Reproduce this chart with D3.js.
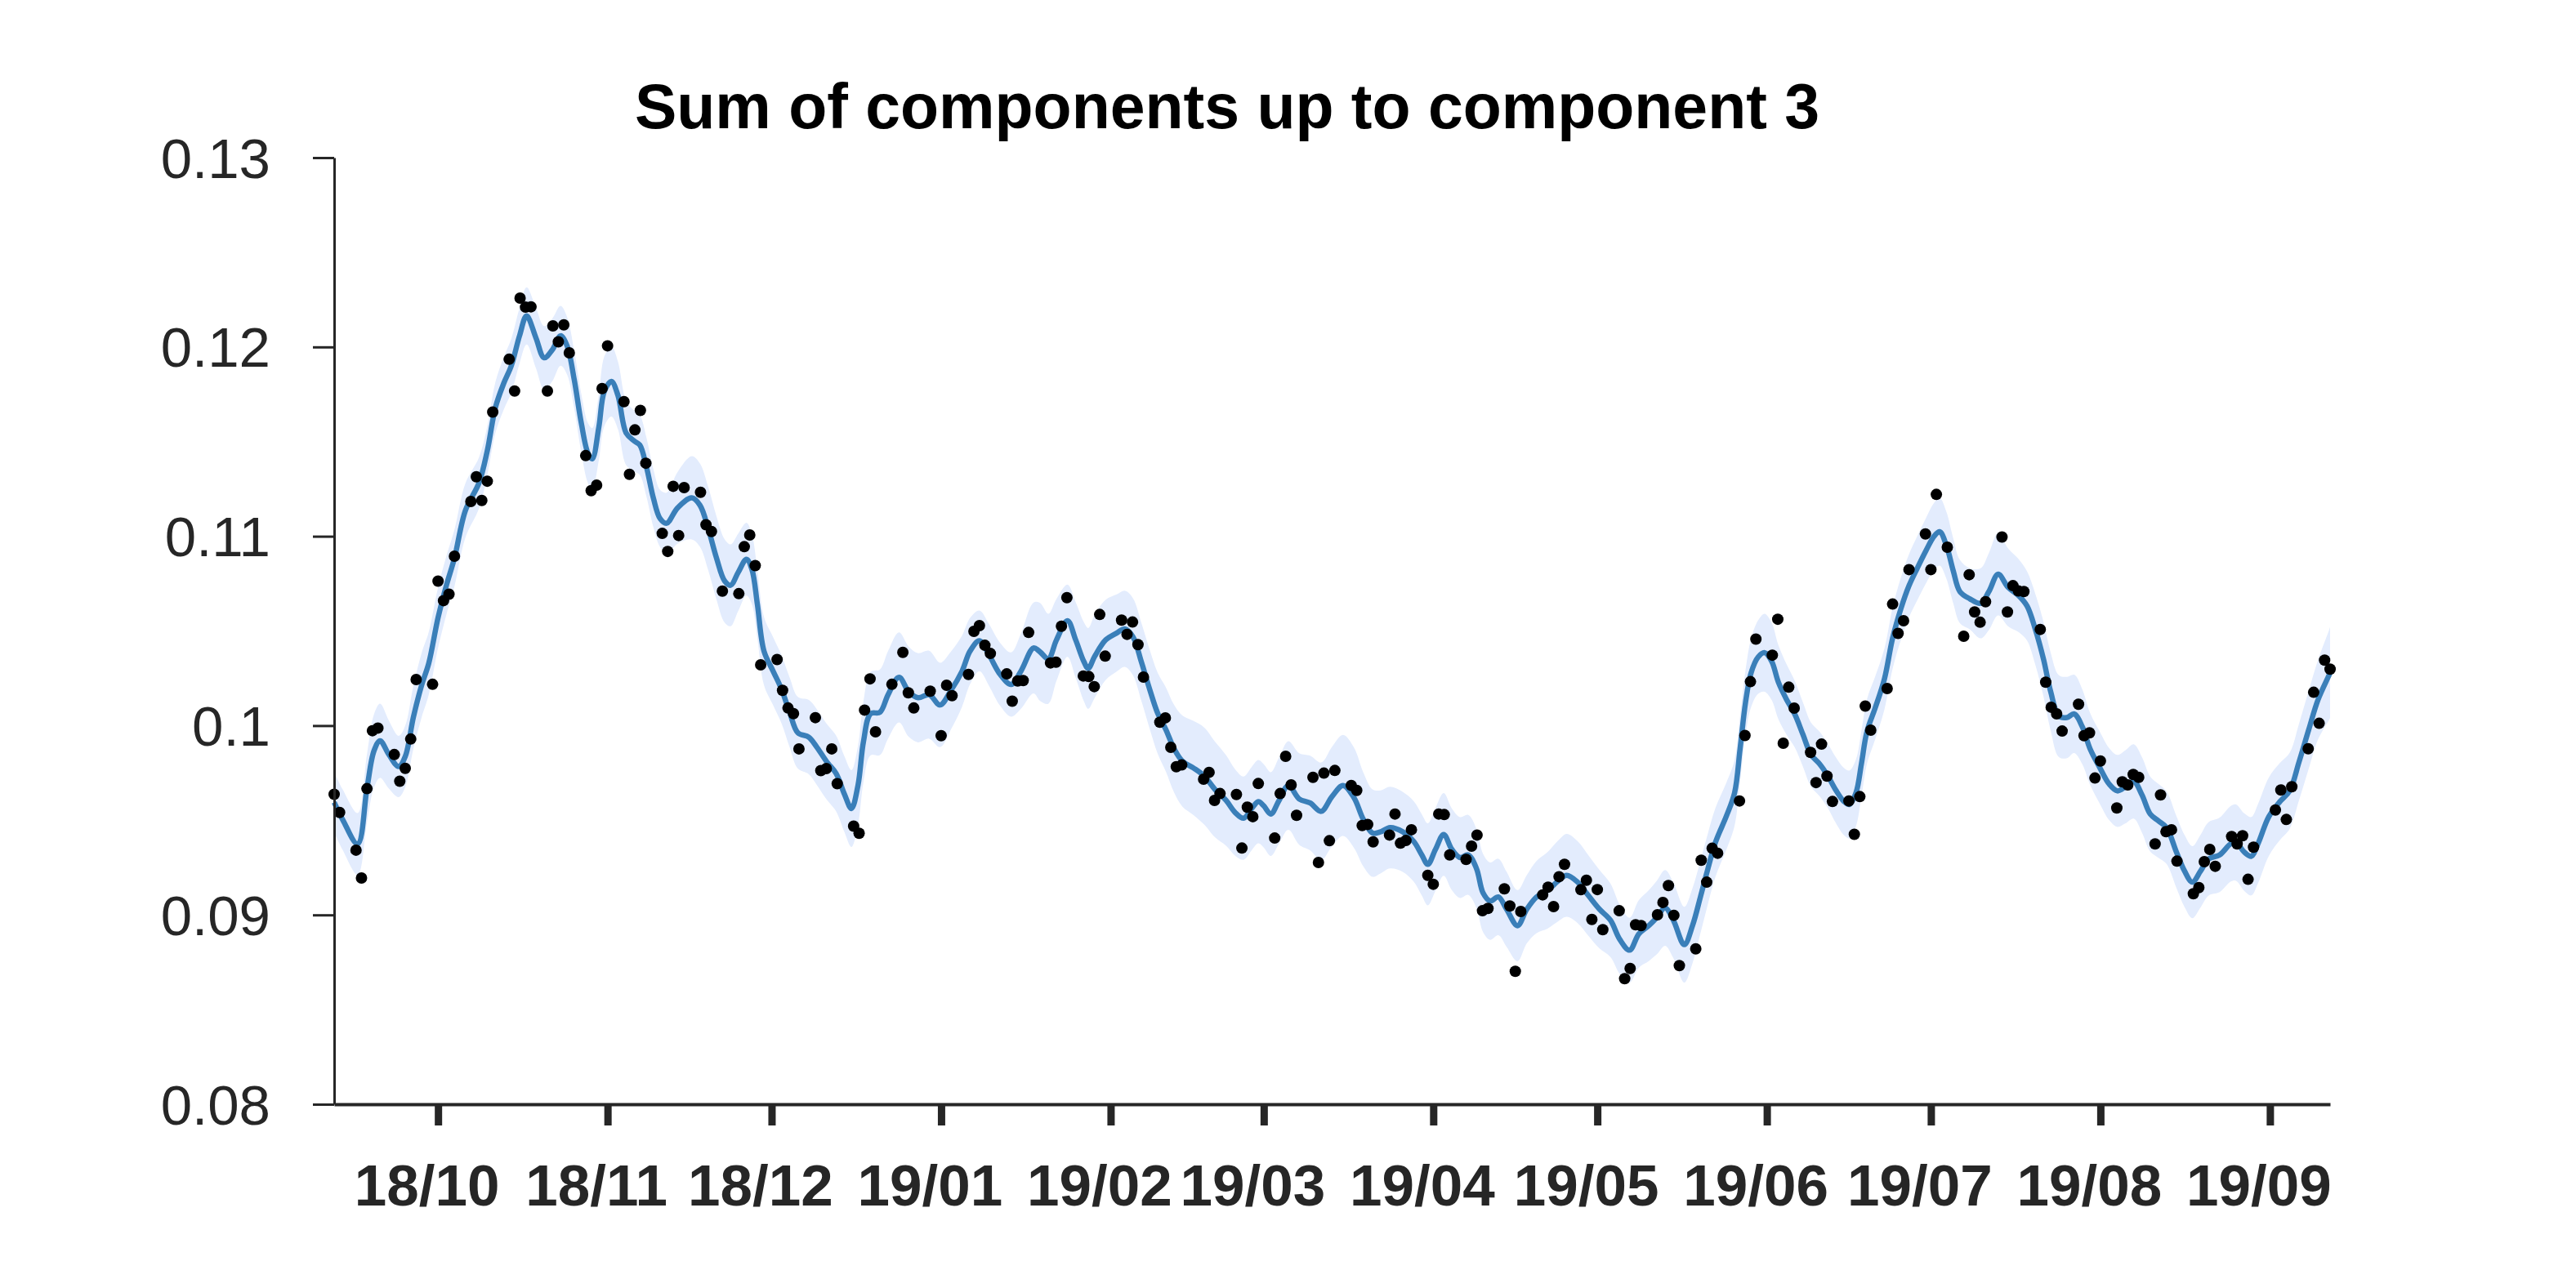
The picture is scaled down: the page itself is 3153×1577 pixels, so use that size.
<!DOCTYPE html>
<html>
<head>
<meta charset="utf-8">
<script src="https://cdn.jsdelivr.net/npm/d3@7"></script>
<style>
  html, body { margin: 0; padding: 0; background: #fff; }
  svg { display: block; }
</style>
</head>
<body>
<svg id="chart" width="3153" height="1577"></svg>
<script>
// ---------------- data ----------------
const titleText = "Sum of components up to component 3";
const startDate = "2018-09-12";   // x = 0 day
const endDate   = "2019-09-12";

const yTickValues = [0.08, 0.09, 0.1, 0.11, 0.12, 0.13];
const yTickLabels = ["0.08", "0.09", "0.1", "0.11", "0.12", "0.13"];
const xTickLabelFormat = "%y/%m";   // 18/10 ... 19/09

// observed points: day offset from startDate, value
const obsDay = [0,1,4,5,6,7,8,11,12,13,14,15,18,19,20,21,22,25,26,27,28,29,32,33,34,35,36,39,40,41,42,43,46,47,48,49,50,53,54,55,56,57,60,61,62,63,64,67,68,69,71,74,75,76,77,78,81,82,83,84,85,88,89,90,91,92,95,96,97,98,99,102,104,105,106,109,111,112,113,116,117,118,119,120,123,124,125,126,127,131,132,133,134,137,138,139,140,141,144,145,146,147,148,151,152,153,154,155,159,160,161,162,165,166,167,168,169,172,173,174,175,176,179,180,181,182,183,186,187,188,189,190,193,194,195,196,197,200,201,202,203,204,207,208,209,210,211,214,215,216,217,221,222,223,224,225,228,229,230,231,232,235,236,237,238,239,242,243,244,245,246,249,250,251,252,253,257,258,259,260,263,264,265,266,267,270,271,272,273,274,277,278,279,280,281,284,285,286,287,288,291,292,293,295,298,299,300,301,302,305,306,307,308,309,312,313,314,315,316,319,320,321,322,323,326,327,328,329,330,333,334,335,336,337,340,341,342,343,344,347,348,349,350,351,355,356,357,358,361,362,363,364,365];
const obsValue = [0.09637,0.09541,0.09342,0.09195,0.09667,0.09973,0.09987,0.09847,0.09706,0.09774,0.09929,0.10243,0.10218,0.10763,0.10660,0.10694,0.10895,0.11184,0.11314,0.11189,0.11291,0.11656,0.11935,0.11767,0.12258,0.12210,0.12212,0.11767,0.12111,0.12027,0.12117,0.11969,0.11426,0.11241,0.11270,0.11780,0.12006,0.11711,0.11327,0.11562,0.11665,0.11386,0.11015,0.10920,0.11264,0.11004,0.11257,0.11232,0.11061,0.11025,0.10710,0.10697,0.10945,0.11007,0.10845,0.10321,0.10349,0.10186,0.10093,0.10063,0.09877,0.10042,0.09762,0.09773,0.09877,0.09693,0.09469,0.09431,0.10082,0.10247,0.09967,0.10218,0.10387,0.10173,0.10093,0.10182,0.09947,0.10213,0.10158,0.10270,0.10498,0.10528,0.10424,0.10381,0.10273,0.10129,0.10236,0.10238,0.10492,0.10331,0.10335,0.10525,0.10676,0.10262,0.10259,0.10206,0.10587,0.10367,0.10557,0.10482,0.10547,0.10428,0.10256,0.10018,0.10041,0.09885,0.09783,0.09792,0.09717,0.09753,0.09605,0.09641,0.09636,0.09353,0.09569,0.09519,0.09694,0.09406,0.09641,0.09838,0.09687,0.09526,0.09727,0.09277,0.09749,0.09392,0.09763,0.09684,0.09658,0.09472,0.09478,0.09386,0.09422,0.09533,0.09379,0.09393,0.09450,0.09209,0.09162,0.09533,0.09530,0.09317,0.09293,0.09363,0.09422,0.09022,0.09034,0.09138,0.09047,0.08702,0.09018,0.09106,0.09147,0.09044,0.09202,0.09267,0.09133,0.09183,0.08976,0.09134,0.08922,0.09022,0.08663,0.08717,0.08948,0.08944,0.09001,0.09066,0.09155,0.08998,0.08732,0.08821,0.09289,0.09173,0.09352,0.09326,0.09602,0.09948,0.10232,0.10457,0.10372,0.10562,0.09907,0.10203,0.10092,0.09858,0.09699,0.09902,0.09733,0.09599,0.09602,0.09426,0.09625,0.10103,0.09976,0.10196,0.10642,0.10487,0.10554,0.10824,0.11012,0.10824,0.11221,0.10942,0.10472,0.10797,0.10600,0.10546,0.10654,0.10996,0.10600,0.10739,0.10711,0.10708,0.10508,0.10229,0.10097,0.10062,0.09971,0.10113,0.09947,0.09962,0.09723,0.09813,0.09565,0.09703,0.09687,0.09742,0.09727,0.09375,0.09634,0.09440,0.09450,0.09284,0.09112,0.09144,0.09281,0.09346,0.09257,0.09414,0.09375,0.09418,0.09188,0.09358,0.09554,0.09660,0.09504,0.09677,0.09878,0.10176,0.10012,0.10346,0.10298];

// fitted curve (sum of components): day offset, value
const fitDay = [0,1.6,4.3,6,7.3,8.4,10,11.8,13,14.5,16,17.3,19,20.5,22,24,26.5,28,29.5,31,32.4,33.9,35.2,36.9,38.4,39.9,41.4,42.6,43.9,45.2,46.4,47.2,48.4,49.4,50.7,51.9,53.4,54.9,55.9,57.1,58.4,59.6,60.8,62.8,65.4,66.9,68.4,69.9,71.4,72.5,73.9,75.4,76.4,77.4,78.6,80.3,81.8,83.3,84.8,86.8,88.3,90.1,91.8,93.3,94.6,95.8,96.8,98.1,99.8,101.3,103.3,105.1,106.8,108.8,110.8,112.8,114.8,116.3,118,119.8,121.8,123.8,125.6,127.9,129.1,130.6,132.1,134.1,135.6,137.1,137.9,139.1,141.1,143.1,144.6,146.1,147.6,149.1,150.6,152.1,153.6,155.1,157.1,159.1,161.1,163.1,164.8,166.3,167.8,169,170,171.3,172.8,174.5,176.5,178.5,180.5,182.5,184.5,186.5,188.2,189.9,191.4,193.1,195.4,197.4,198.9,200,201.4,202.9,204.4,205.9,207.4,208.9,210.1,211.4,212.9,214.4,216.4,218.1,219.9,221.9,223.9,225.4,227.4,229.4,231.4,233.4,235.1,236.9,238.6,240.4,241.9,243.4,244.9,246.9,248.4,249.9,251,252.6,254.6,256.1,257.1,258.1,259.1,260.4,261.6,262.9,264.1,265.6,267.1,268.6,270.1,271.6,273.1,274.6,276.1,277.1,278.3,279.3,280.3,281.8,283.5,285,286.5,288,289.5,291.1,292.6,293.6,294.8,296.1,297.3,299.1,301.1,302.6,304.3,306.1,308.1,309.6,311.1,312.6,313.9,315.4,316.9,318.2,319.7,321.1,322.9,324.6,326.1,327.6,329.1,330.6,332.1,333.6,335.1,336.9,338.4,339.8,341.3,342.8,344.8,346.8,347.8,349.3,350.6,351.8,353.8,355.8,357.6,359.3,361.1,362.8,364.8,365];
const fitValue = [0.09595,0.09501,0.09375,0.09669,0.09868,0.09920,0.09847,0.09784,0.09837,0.10046,0.10214,0.10329,0.10570,0.10738,0.10885,0.11136,0.11283,0.11451,0.11681,0.11807,0.11901,0.12059,0.12164,0.12048,0.11943,0.11985,0.12059,0.12006,0.11828,0.11597,0.11440,0.11409,0.11576,0.11765,0.11818,0.11744,0.11545,0.11503,0.11482,0.11367,0.11199,0.11094,0.11069,0.11150,0.11203,0.11164,0.11041,0.10887,0.10764,0.10741,0.10810,0.10879,0.10825,0.10640,0.10394,0.10286,0.10193,0.10070,0.09962,0.09939,0.09885,0.09808,0.09747,0.09639,0.09562,0.09685,0.09916,0.10063,0.10070,0.10163,0.10255,0.10178,0.10147,0.10163,0.10109,0.10186,0.10286,0.10394,0.10448,0.10371,0.10270,0.10217,0.10288,0.10410,0.10389,0.10353,0.10453,0.10554,0.10453,0.10338,0.10302,0.10367,0.10453,0.10489,0.10511,0.10468,0.10338,0.10195,0.10065,0.09979,0.09878,0.09813,0.09777,0.09734,0.09662,0.09605,0.09540,0.09511,0.09562,0.09598,0.09576,0.09533,0.09605,0.09684,0.09612,0.09591,0.09547,0.09626,0.09684,0.09619,0.09505,0.09432,0.09439,0.09461,0.09439,0.09389,0.09317,0.09267,0.09346,0.09425,0.09346,0.09303,0.09317,0.09245,0.09116,0.09073,0.09095,0.09030,0.08943,0.09030,0.09095,0.09130,0.09181,0.09209,0.09173,0.09101,0.09030,0.08972,0.08871,0.08814,0.08900,0.08943,0.08987,0.09037,0.08972,0.08843,0.08943,0.09100,0.09220,0.09383,0.09522,0.09645,0.09876,0.10122,0.10277,0.10362,0.10385,0.10338,0.10230,0.10138,0.10061,0.09953,0.09845,0.09799,0.09737,0.09660,0.09599,0.09583,0.09645,0.09799,0.09968,0.10092,0.10246,0.10462,0.10616,0.10739,0.10831,0.10924,0.11001,0.11024,0.10955,0.10816,0.10708,0.10670,0.10646,0.10708,0.10800,0.10731,0.10685,0.10631,0.10508,0.10350,0.10180,0.10050,0.10043,0.10062,0.09993,0.09878,0.09777,0.09691,0.09655,0.09677,0.09705,0.09634,0.09533,0.09497,0.09461,0.09332,0.09231,0.09173,0.09231,0.09296,0.09317,0.09375,0.09382,0.09332,0.09310,0.09375,0.09519,0.09598,0.09655,0.09806,0.09979,0.10137,0.10266,0.10280];

// half-width of the shaded uncertainty band
const bandDay  = [0,4,8,12,16,22,28,35,39,43,47,50,55,60,65,72,77,82,88,94,98,104,110,118,124,129,134,139,144,150,155,160,166,171,176,181,186,191,196,202,208,214,218,225,231,237,243,248,253,258,262,268,273,277,284,290,294,299,304,310,316,321,326,331,336,340,347,352,358,363,365];
const bandHalf = [0.0016,0.0016,0.0020,0.0016,0.0017,0.0015,0.0013,0.0015,0.0017,0.0015,0.0016,0.0019,0.0016,0.0015,0.0022,0.0022,0.0018,0.0018,0.0020,0.0020,0.0022,0.0024,0.0023,0.0016,0.0017,0.0026,0.0019,0.0022,0.0020,0.0021,0.0024,0.0026,0.0022,0.0022,0.0024,0.0026,0.0027,0.0022,0.0021,0.0022,0.0021,0.0020,0.0018,0.0022,0.0021,0.0017,0.0020,0.0020,0.0018,0.0017,0.0021,0.0017,0.0017,0.0018,0.0016,0.0017,0.0018,0.0016,0.0022,0.0018,0.0022,0.0019,0.0019,0.0020,0.0019,0.0019,0.0020,0.0021,0.0020,0.0021,0.0024];

// ---------------- drawing ----------------
const svg = d3.select("#chart");
const W = 3153, H = 1577;
svg.append("rect").attr("width", W).attr("height", H).attr("fill", "#fff");

const plot = { left: 409, right: 2852, top: 193, bottom: 1352 };
const parse = d3.utcParse("%Y-%m-%d");
const t0 = parse(startDate), t1 = parse(endDate);
const dayToDate = d => new Date(t0.getTime() + d * 864e5);

const x = d3.scaleUtc().domain([t0, t1]).range([plot.left, plot.right]);
const y = d3.scaleLinear().domain([0.08, 0.13]).range([plot.bottom, plot.top]);
const halfAt = d3.scaleLinear().domain(bandDay).range(bandHalf).clamp(true);

const fit = fitDay.map((d, i) => ({ d, v: fitValue[i] }));
const obs = obsDay.map((d, i) => ({ d, v: obsValue[i] }));

const axisColor = "#262626";
const fontFamily = "'Liberation Sans', Arial, Helvetica, sans-serif";

// band
const area = d3.area()
  .x(p => x(dayToDate(p.d)))
  .y0(p => y(p.v - halfAt(p.d)))
  .y1(p => y(p.v + halfAt(p.d)))
  .curve(d3.curveCatmullRom.alpha(0.5));
svg.append("path").datum(fit)
  .attr("d", area)
  .attr("fill", "#e3ecfd")
  .attr("stroke", "none");

// fitted line
const line = d3.line()
  .x(p => x(dayToDate(p.d)))
  .y(p => y(p.v))
  .curve(d3.curveCatmullRom.alpha(0.5));
svg.append("path").datum(fit)
  .attr("d", line)
  .attr("fill", "none")
  .attr("stroke", "#3a7fb9")
  .attr("stroke-width", 6.5)
  .attr("stroke-linejoin", "round");

// points
svg.append("g").selectAll("circle").data(obs).join("circle")
  .attr("cx", p => x(dayToDate(p.d)))
  .attr("cy", p => y(p.v))
  .attr("r", 7)
  .attr("fill", "#000");

// y axis
const yAxis = d3.axisLeft(y)
  .tickValues(yTickValues)
  .tickFormat((d, i) => yTickLabels[i])
  .tickSizeInner(26).tickSizeOuter(0).tickPadding(52);
const gy = svg.append("g").attr("transform", `translate(${plot.left},0)`).call(yAxis);
gy.select(".domain").attr("stroke", axisColor).attr("stroke-width", 3);
gy.selectAll(".tick line").attr("stroke", axisColor).attr("stroke-width", 3);
gy.selectAll(".tick text")
  .attr("fill", axisColor)
  .style("font-family", fontFamily)
  .style("font-size", "69px")
  .attr("dy", "0.35em");

// x axis
const xAxis = d3.axisBottom(x)
  .ticks(d3.utcMonth.every(1))
  .tickFormat(d3.utcFormat(xTickLabelFormat))
  .tickSizeInner(26).tickSizeOuter(0).tickPadding(45);
const gx = svg.append("g").attr("transform", `translate(0,${plot.bottom})`).call(xAxis);
gx.select(".domain").attr("stroke", axisColor).attr("stroke-width", 4);
gx.selectAll(".tick line").attr("stroke", axisColor).attr("stroke-width", 9);
gx.selectAll(".tick text")
  .attr("fill", axisColor)
  .attr("dx", -14)
  .attr("y", 0)
  .attr("dy", 0)
  .attr("transform", "translate(0,124)")
  .style("font-family", fontFamily)
  .style("font-weight", "bold")
  .style("font-size", "71px");

// title
svg.append("text")
  .attr("x", 1502)
  .attr("y", 157)
  .attr("text-anchor", "middle")
  .style("font-family", fontFamily)
  .style("font-weight", "bold")
  .style("font-size", "77px")
  .attr("fill", "#000")
  .text(titleText);
</script>
</body>
</html>
